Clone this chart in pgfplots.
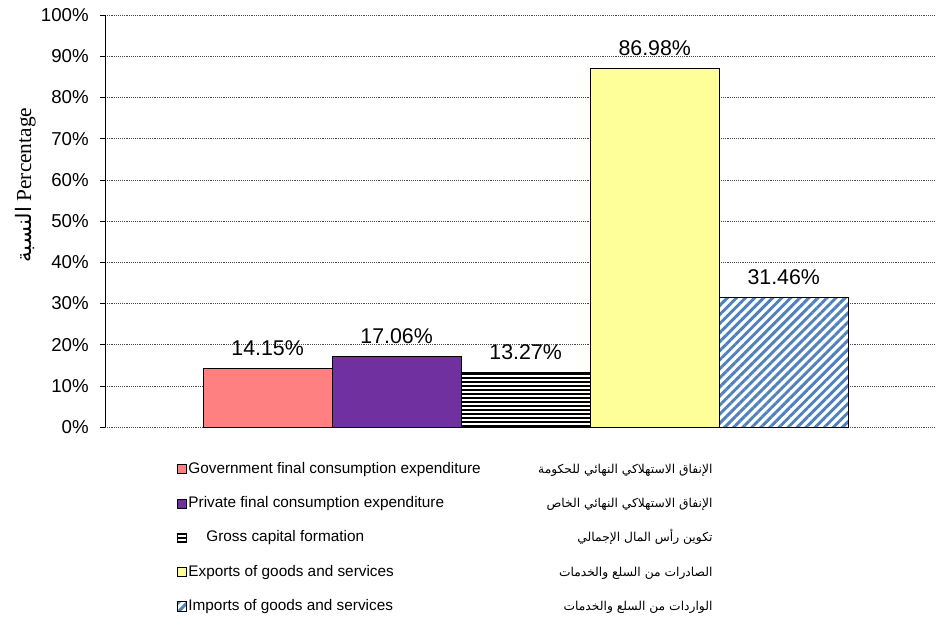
\documentclass[border=0pt]{standalone}
\usepackage{fontspec}
\setmainfont{Liberation Sans}
\newfontfamily\timesfont{Liberation Serif}
\newfontfamily\arabicfont[Script=Arabic]{DejaVu Sans}
\TeXXeTstate=1
\usepackage{pgfplots}
\pgfplotsset{compat=1.18}
\usetikzlibrary{patterns.meta}

\definecolor{govt}{HTML}{FF8080}
\definecolor{priv}{HTML}{7030A0}
\definecolor{expo}{HTML}{FFFF99}
\definecolor{impo}{HTML}{4F81BD}

% one bar per series, all centred on their own x, square legend key
\pgfplotsset{sq/.style={draw=black, line width=0.6pt, bar shift=0pt,
  legend image code/.code={\draw[##1] (0pt,-3.4pt) rectangle (6.8pt,3.4pt);}}}

% legend text: english on the left, arabic flush right
\newcommand{\entry}[3][0pt]{\makebox[393pt][l]{\hspace*{#1}#2\hfill{\arabicfont\fontsize{9.2}{11}\selectfont #3}}}

\begin{document}
\begin{tikzpicture}
\begin{axis}[
  scale only axis, width=623.25pt, height=309pt,
  ybar, bar width=1,
  xmin=-0.26, xmax=6.18, ymin=0, ymax=100,
  axis lines*=left, x axis line style={draw=none},
  xtick=\empty,
  ytick={0,10,...,100},
  yticklabel={\pgfmathprintnumber{\tick}\%},
  /pgf/number format/assume math mode=true,
  tick align=outside, major tick length=3.75pt,
  tick style={black, thin},
  y axis line style={black, thin},
  ymajorgrids, major grid style={densely dotted, black!70, thin},
  ticklabel style={font=\fontsize{14}{16}\selectfont},
  yticklabel style={xshift=-5pt},
  ylabel={{\arabicfont\beginR النسبة\endR}\ Percentage},
  ylabel style={font=\timesfont\fontsize{16}{18}\selectfont,
    at={(axis description cs:-0.096,0.587)}, anchor=center},
  nodes near coords={\pgfmathprintnumber[fixed,fixed zerofill,precision=2]{\pgfplotspointmeta}\%},
  nodes near coords style={font=\fontsize{16}{18}\selectfont, black, yshift=6pt},
  legend cell align=left,
  legend style={at={(0.0866,-0.081)}, anchor=north west, draw=none, fill=none,
    inner sep=0pt, row sep=12.7pt, font=\fontsize{11.5}{13}\selectfont,
    nodes={inner sep=1pt, text height=8.5pt, text depth=2.5pt}},
]
\addplot[sq, fill=govt] coordinates {(1,14.15)};
\addlegendentry{\entry{Government final consumption expenditure}{\beginR الإنفاق الاستهلاكي النهائي للحكومة\endR}}
\addplot[sq, fill=priv] coordinates {(2,17.06)};
\addlegendentry{\entry{Private final consumption expenditure}{\beginR الإنفاق الاستهلاكي النهائي الخاص\endR}}
\addplot[sq, preaction={fill=white}, pattern={Lines[angle=0,distance=3pt,line width=1.5pt]}, pattern color=black] coordinates {(3,13.27)};
\addlegendentry{\entry[13.5pt]{Gross capital formation}{\beginR تكوين رأس المال الإجمالي\endR}}
\addplot[sq, fill=expo] coordinates {(4,86.98)};
\addlegendentry{\entry{Exports of goods and services}{\beginR الصادرات من السلع والخدمات\endR}}
\addplot[sq, preaction={fill=white}, pattern={Lines[angle=45,distance=4.8pt,line width=2.2pt]}, pattern color=impo] coordinates {(5,31.46)};
\addlegendentry{\entry{Imports of goods and services}{\beginR الواردات من السلع والخدمات\endR}}
\coordinate (bl) at (rel axis cs:0,0);
\coordinate (tr) at (rel axis cs:1,1);
\end{axis}
\pgfresetboundingbox
\path[use as bounding box] ([xshift=-78.75pt,yshift=-143.25pt]bl) rectangle ([yshift=11.25pt]tr);
\end{tikzpicture}
\end{document}
